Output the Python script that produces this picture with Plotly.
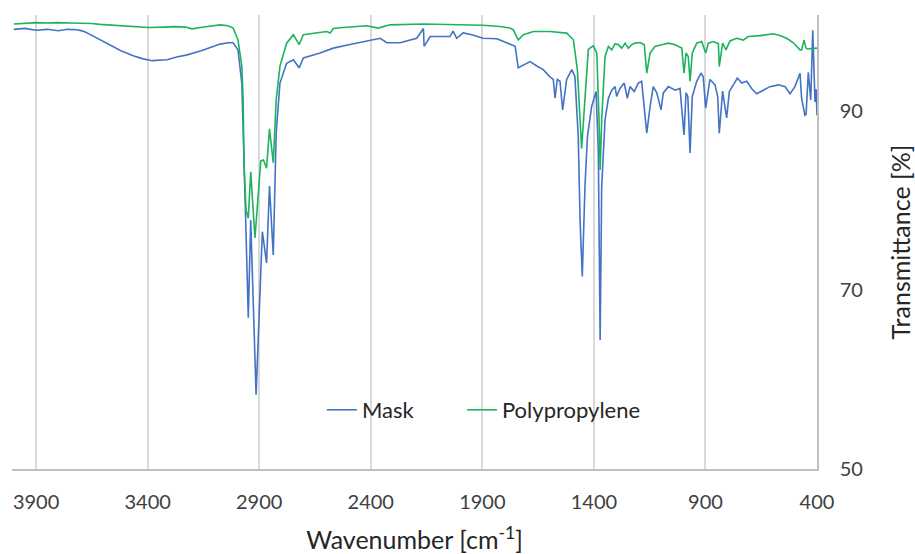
import plotly.graph_objects as go

# FTIR transmission spectra: face mask material vs. reference polypropylene
mask_wavenumber = [
    4000, 3950, 3900, 3850, 3800, 3760, 3716, 3690, 3671, 3620, 3568, 3520, 3465, 3420,
    3380, 3340, 3313, 3270, 3223, 3160, 3107, 3075, 3040, 3017, 2995, 2978, 2963, 2949,
    2938, 2914, 2886, 2867, 2854, 2837, 2824, 2807, 2777, 2747, 2721, 2702, 2627, 2568,
    2493, 2418, 2358, 2328, 2269, 2194, 2164, 2161, 2134, 2045, 2031, 2015, 1986, 1947,
    1897, 1835, 1776, 1753, 1739, 1716, 1686, 1656, 1627, 1597, 1582, 1574, 1564, 1552,
    1540, 1522, 1499, 1485, 1470, 1462, 1452, 1440, 1429, 1410, 1390, 1380, 1372, 1365,
    1360, 1350, 1335, 1320, 1305, 1298, 1283, 1275, 1264, 1250, 1238, 1219, 1201, 1186,
    1163, 1148, 1134, 1118, 1099, 1089, 1066, 1036, 1014, 996, 987, 979, 969, 959,
    939, 920, 910, 899, 880, 857, 845, 838, 830, 823, 805, 793, 775, 757,
    737, 715, 693, 670, 641, 611, 573, 543, 521, 499, 476, 469, 454, 449,
    439, 431, 428, 419, 412, 409, 404, 400,
]
mask_transmittance = [
    99.1, 99.2, 99.0, 99.1, 98.95, 99.1, 99.05, 98.9, 98.7, 98.0, 97.3, 96.7, 96.15, 95.8,
    95.6, 95.65, 95.7, 96.0, 96.25, 96.7, 97.15, 97.45, 97.6, 97.6, 96.8, 93.1, 80.0, 66.9,
    77.8, 58.3, 76.5, 73.0, 81.6, 73.9, 87.5, 93.1, 95.3, 95.7, 94.8, 95.9, 96.45, 97.0,
    97.4, 97.75, 98.1, 97.6, 97.6, 98.1, 99.2, 97.2, 98.3, 98.3, 98.9, 98.1, 98.7, 98.5,
    98.1, 98.05, 97.4, 97.2, 94.8, 95.1, 95.5, 95.0, 94.6, 93.8, 93.5, 91.4, 93.5, 93.3,
    90.1, 93.5, 94.6, 93.8, 87.1, 77.8, 71.5, 81.5, 87.1, 90.5, 92.15, 85.3, 64.4, 81.5,
    84.5, 89.0, 91.4, 92.3, 92.7, 91.6, 92.5, 92.8, 93.1, 91.4, 92.7, 92.15, 93.1, 93.3,
    87.5, 90.5, 92.7, 92.0, 90.1, 92.0, 92.7, 92.3, 92.5, 87.3, 92.0, 91.6, 85.3, 91.6,
    93.3, 94.2, 93.8, 90.3, 93.5, 92.9, 91.6, 87.5, 90.5, 92.2, 89.2, 92.15, 92.9, 93.65,
    93.1, 93.3, 92.5, 91.9, 92.3, 92.7, 92.9, 92.7, 91.9, 92.7, 94.2, 91.4, 89.5, 89.6,
    94.3, 92.4, 91.2, 99.0, 91.2, 91.0, 92.4, 89.5,
]

pp_wavenumber = [
    4000, 3950, 3900, 3850, 3800, 3750, 3700, 3650, 3613, 3524, 3450, 3398, 3330, 3277,
    3230, 3201, 3165, 3098, 3075, 3040, 3017, 2995, 2978, 2972, 2968, 2959, 2949, 2938,
    2919, 2893, 2881, 2867, 2854, 2837, 2824, 2807, 2777, 2747, 2721, 2702, 2642, 2597,
    2582, 2568, 2538, 2418, 2367, 2314, 2164, 2000, 1955, 1897, 1821, 1776, 1761, 1739,
    1716, 1671, 1597, 1522, 1492, 1474, 1455, 1440, 1425, 1403, 1387, 1377, 1372, 1365,
    1357, 1350, 1335, 1320, 1305, 1290, 1275, 1260, 1246, 1231, 1216, 1193, 1174, 1163,
    1148, 1126, 1096, 1066, 1036, 1006, 996, 987, 977, 969, 959, 939, 917, 899,
    887, 865, 842, 838, 823, 808, 790, 760, 730, 708, 655, 596, 566, 536,
    506, 476, 469, 458, 449, 443, 400,
]
pp_transmittance = [
    99.7, 99.8, 99.85, 99.8, 99.85, 99.8, 99.8, 99.75, 99.65, 99.5, 99.35, 99.3, 99.35, 99.4,
    99.35, 99.15, 99.3, 99.5, 99.6, 99.5, 99.25, 97.9, 95.0, 91.2, 83.8, 78.9, 78.0, 83.2,
    75.8, 84.4, 84.5, 83.6, 88.0, 84.2, 91.2, 95.0, 97.55, 98.5, 97.4, 98.5, 98.7, 98.86,
    98.7, 99.2, 99.27, 99.5, 99.24, 99.6, 99.7, 99.65, 99.6, 99.55, 99.42, 99.24, 99.05, 97.93,
    98.5, 98.86, 98.86, 98.68, 97.93, 94.6, 85.8, 90.9, 96.85, 97.26, 96.45, 89.0, 83.4, 89.0,
    93.1, 96.07, 97.18, 96.8, 97.5, 97.37, 97.0, 97.56, 97.0, 97.37, 97.56, 97.63, 97.37, 94.2,
    96.45, 97.18, 97.37, 97.56, 97.37, 97.0, 94.2, 96.45, 96.07, 93.3, 96.45, 97.56, 97.74, 96.45,
    97.56, 97.74, 97.5, 94.95, 97.56, 96.8, 97.8, 98.1, 97.9, 98.3, 98.4, 98.6, 98.4, 98.1,
    97.6, 96.8, 96.8, 97.9, 97.0, 96.9, 97.0,
]

x_ticks = [3900, 3400, 2900, 2400, 1900, 1400, 900, 400]
y_ticks = [50, 70, 90]

FONT = "Lato, Carlito, 'Liberation Sans', sans-serif"
TEXT = "#404040"

fig = go.Figure()
fig.add_trace(go.Scatter(
    x=mask_wavenumber, y=mask_transmittance, mode="lines", name="Mask",
    line=dict(color="#4472C4", width=1.6), legend="legend",
))
fig.add_trace(go.Scatter(
    x=pp_wavenumber, y=pp_transmittance, mode="lines", name="Polypropylene",
    line=dict(color="#1DB35E", width=1.6), legend="legend2",
))

legend_style = dict(
    orientation="h", y=0.13, xanchor="left", yanchor="middle",
    font=dict(size=22, color="#262626"), bgcolor="rgba(0,0,0,0)",
)

fig.update_layout(
    width=915, height=554,
    margin=dict(l=12, r=98, t=15, b=85, autoexpand=False),
    paper_bgcolor="white", plot_bgcolor="white",
    font=dict(family=FONT, color=TEXT, size=20),
    showlegend=True,
    legend=dict(x=0.385, **legend_style),
    legend2=dict(x=0.559, **legend_style),
    xaxis=dict(
        range=[4008, 400], tickvals=x_ticks, ticktext=[str(v) for v in x_ticks],
        showgrid=True, gridcolor="#d9d9d9", gridwidth=1.5,
        showline=True, linecolor="#bfbfbf", linewidth=1.5,
        zeroline=False, ticks="", ticklabelstandoff=14, automargin=False,
        tickfont=dict(size=20, color=TEXT),
        title=dict(text="Wavenumber [cm<sup>-1</sup>]", font=dict(size=25, color="#262626"), standoff=21),
    ),
    yaxis=dict(
        range=[50, 100.7], tickvals=y_ticks, side="right",
        showgrid=False, showline=True, linecolor="#bfbfbf", linewidth=1.5,
        zeroline=False, ticks="", ticklabelstandoff=17, automargin=False,
        tickfont=dict(size=20, color=TEXT),
        title=dict(text="Transmittance [%]", font=dict(size=25, color="#262626"), standoff=32),
    ),
)

fig.write_html("out.html")
